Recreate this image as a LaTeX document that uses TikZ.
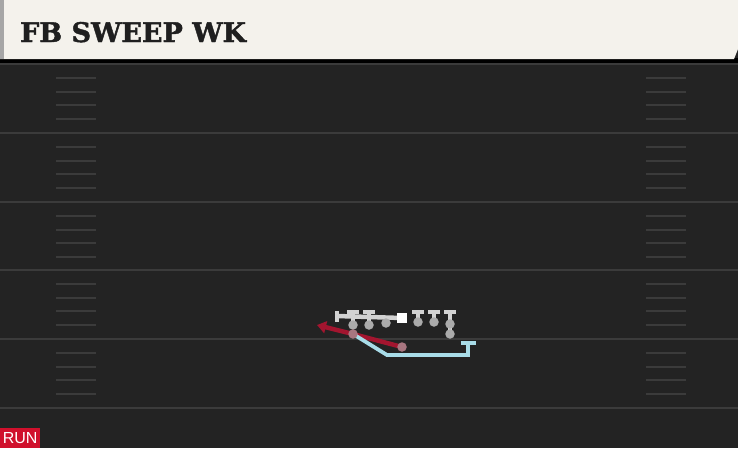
\documentclass[tikz,border=0pt]{standalone}
\usepackage{fontspec}
\newfontfamily\titlefont[BoldFeatures={FakeBold=1.6}]{DejaVu Serif}
\newfontfamily\tagfont{Liberation Sans}
\usetikzlibrary{arrows.meta}

\definecolor{fieldbg}{HTML}{232323}
\definecolor{yardgray}{HTML}{3B3B3B}
\definecolor{headerbg}{HTML}{F4F2EC}
\definecolor{runred}{HTML}{D0102C}
\definecolor{routered}{HTML}{A3152F}
\definecolor{routeblue}{HTML}{A8DCE8}
\definecolor{playergray}{HTML}{ABABAB}
\definecolor{blockgray}{HTML}{D2D2D2}

\tikzset{
  player/.style={circle, fill=playergray, inner sep=0pt, minimum size=9.5pt},
  runner/.style={circle, fill=playergray!65!routered, inner sep=0pt, minimum size=9.5pt},
  snapper/.style={rectangle, fill=white, inner sep=0pt, minimum size=10pt},
  blockline/.style={draw=blockgray, line width=4.5pt},
  redroute/.style={draw=routered, line width=4.5pt},
  blueroute/.style={draw=routeblue, line width=3.8pt, line join=miter},
}

\begin{document}
\begin{tikzpicture}[x=1pt,y=-1pt]
    \useasboundingbox (0,0) rectangle (738,448);

    % Field background
    \fill[fieldbg] (0,0) rectangle (738,448);
    \fill[black] (0,58) rectangle (738,63);

    % Yard lines
    \foreach \y in {64,133,202,270,339,408}
        \draw[yardgray, line width=2pt] (0,\y) -- (738,\y);

    % Hash marks on both sides
    \foreach \y in {64,133,202,270,339}
        \foreach \d in {14,28,41,55} {
            \draw[yardgray, line width=1.8pt] (56,\y+\d) -- (96,\y+\d);
            \draw[yardgray, line width=1.8pt] (646,\y+\d) -- (686,\y+\d);
        }

    % Header with the play name
    \fill[headerbg] (0,0) -- (738,0) -- (738,49) -- (734,59) -- (0,59) -- cycle;
    \fill[black!35] (0,0) rectangle (4,59);
    \node[anchor=base west, inner sep=0pt, text=black!88,
          font=\titlefont\bfseries\fontsize{27}{27}\selectfont] (title) at (20,42) {FB SWEEP WK};

    % Line positions
    \coordinate (lt) at (353,325);
    \coordinate (lg) at (369,325);
    \coordinate (lw) at (386,323);
    \coordinate (ctr) at (402,318);
    \coordinate (rg) at (418,322);
    \coordinate (rt) at (434,322);
    \coordinate (te) at (450,324);
    \coordinate (wing) at (450,334);
    \coordinate (qb) at (353,334);
    \coordinate (fb) at (402,347);

    % Block of the center back to the left
    \coordinate (cblock) at (337,316);
    \draw[blockline] (ctr) -- (cblock);
    \draw[blockline] ([yshift=-5.5pt]cblock) -- ([yshift=5.5pt]cblock);

    % Straight blocks with T caps
    \foreach \p/\x in {lt/353,lg/369,rg/418,rt/434,wing/450} {
        \coordinate (\p cap) at (\x,312);
        \draw[blockline] (\p) -- (\p cap);
        \draw[blockline] ([xshift=-6pt]\p cap) -- ([xshift=6pt]\p cap);
    }

    % Routes
    \coordinate (sweepend) at (317,325);
    \coordinate (bluebend) at (387,355);
    \coordinate (bluecorner) at (468,355);
    \coordinate (blueend) at (468,343);
    \draw[redroute, -{Triangle[length=9pt,width=12pt]}] (fb) -- (qb) -- (sweepend);
    \draw[blueroute] (qb) -- (bluebend) -- (bluecorner) -- (blueend);
    \draw[blueroute] ([xshift=-7.5pt]blueend) -- ([xshift=7.5pt]blueend);

    % Players
    \foreach \p in {lt,lg,lw,rg,rt,te,wing}
        \node[player] (\p n) at (\p) {};
    \node[snapper] (ctrn) at (ctr) {};
    \node[runner] (qbn) at (qb) {};
    \node[runner] (fbn) at (fb) {};

    % Play type tag
    \node[fill=runred, text=white, anchor=south west, minimum width=40pt, minimum height=20pt,
          inner sep=0pt, font=\tagfont\fontsize{16}{16}\selectfont] (runtag) at (0,448) {RUN};

\end{tikzpicture}
\end{document}
